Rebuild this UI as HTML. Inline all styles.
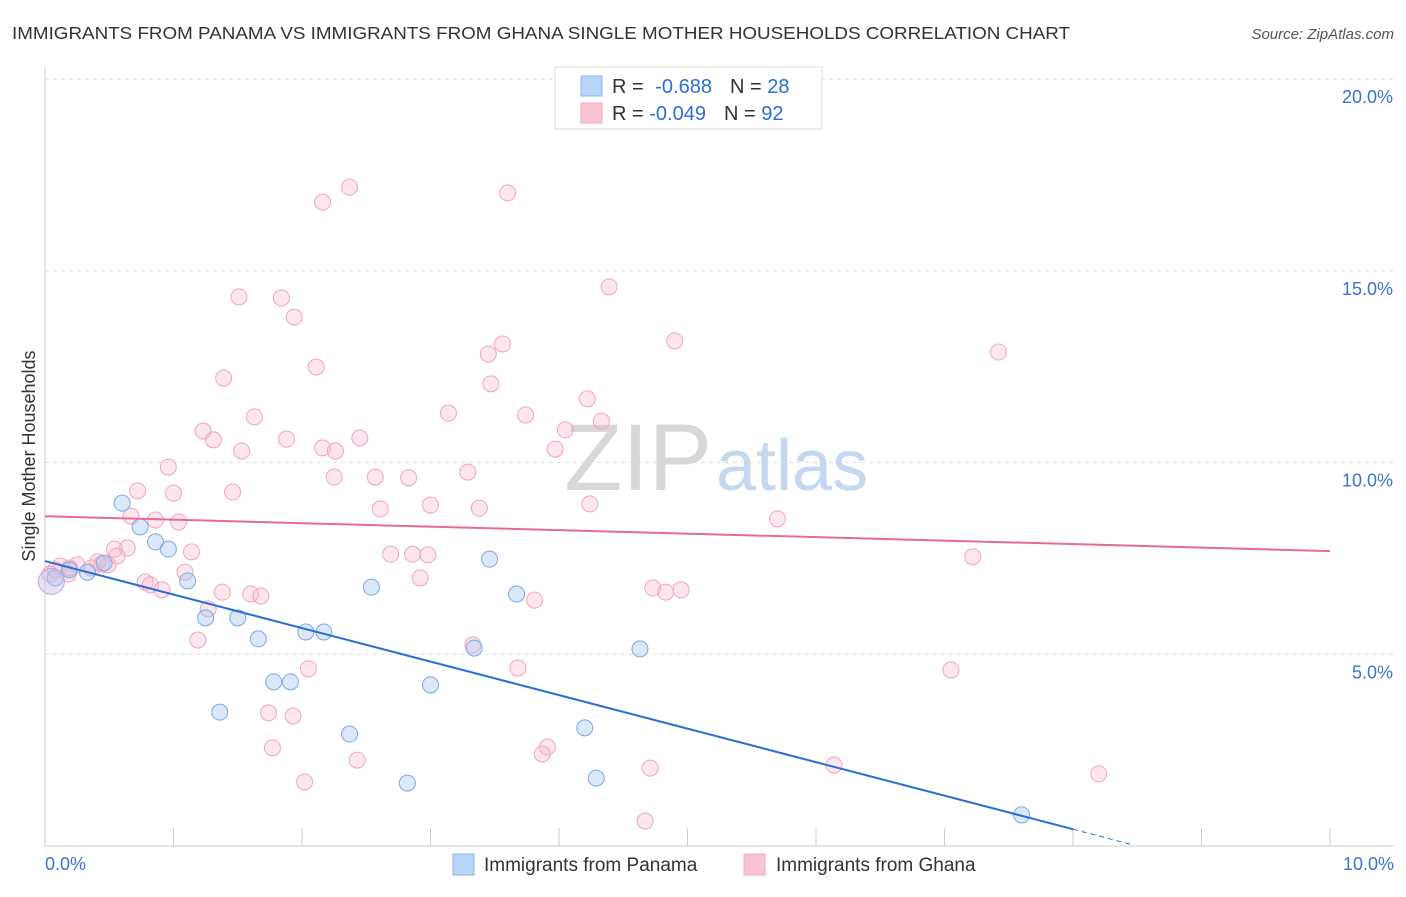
<!DOCTYPE html>
<html><head><meta charset="utf-8"><style>
body{margin:0;background:#fff;font-family:"Liberation Sans",sans-serif;}
svg text{font-family:"Liberation Sans",sans-serif;}
</style></head><body>
<svg id="chart" width="1406" height="892" xmlns="http://www.w3.org/2000/svg">
<text x="12" y="39" font-size="17.5" fill="#333" textLength="1058" lengthAdjust="spacingAndGlyphs">IMMIGRANTS FROM PANAMA VS IMMIGRANTS FROM GHANA SINGLE MOTHER HOUSEHOLDS CORRELATION CHART</text>
<text x="1394" y="39" font-size="15" fill="#555" font-style="italic" text-anchor="end">Source: ZipAtlas.com</text>
<text x="35" y="456" font-size="18" fill="#333" transform="rotate(-90 35 456)" text-anchor="middle">Single Mother Households</text>
<g id="grid"></g>
<g id="axes"></g>
<text x="712" y="490" font-size="95" fill="#d8d8d8" text-anchor="end" font-family="Liberation Serif">ZIP</text>
<text x="716" y="490" font-size="72" fill="#c6d8f0">atlas</text>
<g id="pts"></g>
<g id="lines"></g>
<g>
<rect x="555" y="67" width="267" height="62" fill="#fff" stroke="#ddd"/>
<rect x="581" y="76" width="21" height="20" fill="#b8d4f6" stroke="#8ab4ea"/>
<rect x="581" y="103" width="21" height="20" fill="#f8c4d4" stroke="#f0a8c0"/>
<text x="612" y="93" font-size="20" fill="#333">R = <tspan fill="#2a6fd6" dx="6">-0.688</tspan><tspan fill="#333" dx="18">N = </tspan><tspan fill="#2a6fd6">28</tspan></text>
<text x="612" y="120" font-size="20" fill="#333">R = <tspan fill="#2a6fd6">-0.049</tspan><tspan fill="#333" dx="18">N = </tspan><tspan fill="#2a6fd6">92</tspan></text>
</g>
<g>
<rect x="453" y="854" width="21" height="21" fill="#b8d4f6" stroke="#8ab4ea"/>
<text x="484" y="871" font-size="19" fill="#333">Immigrants from Panama</text>
<rect x="744" y="854" width="21" height="21" fill="#f8c4d4" stroke="#f0a8c0"/>
<text x="776" y="871" font-size="19" fill="#333">Immigrants from Ghana</text>
</g>
</svg>
<script>
const xTicks=[0,1,2,3,4,5,6,7,8,9,10];
const yTicks=[5,10,15,20];
const yTickLabels=["5.0%","10.0%","15.0%","20.0%"];
const xTickLabels=["0.0%","10.0%"];
const panamaX=[0.60,0.74,0.86,0.96,1.11,1.25,1.50,1.66,2.03,2.17,1.78,1.91,1.36,2.37,2.54,3.00,3.34,3.46,3.67,2.82,4.20,4.29,4.63,7.60,0.08,0.19,0.33,0.46];
const panamaY=[8.94,8.32,7.93,7.74,6.91,5.95,5.95,5.40,5.58,5.58,4.28,4.28,3.49,2.92,6.75,4.20,5.16,7.48,6.57,1.64,3.08,1.77,5.14,0.81,6.99,7.20,7.14,7.38];
const ghanaX=[2.16,2.37,3.60,1.51,1.84,1.94,4.39,4.90,7.42,3.45,3.56,2.11,1.39,3.47,3.14,1.63,3.74,4.22,4.33,1.23,1.31,1.88,2.45,4.05,1.53,2.16,2.26,3.97,0.96,3.29,2.25,2.57,2.83,1.46,0.72,1.00,2.61,3.00,3.38,4.24,5.70,0.67,0.86,1.04,2.69,2.86,2.98,7.22,1.14,0.64,0.54,0.56,0.44,0.49,0.25,0.36,0.12,0.08,0.18,0.78,0.82,0.91,1.09,1.38,1.60,1.68,2.92,4.73,4.83,4.95,3.81,1.27,1.19,3.33,2.05,3.68,7.05,1.74,1.93,1.77,2.43,3.91,3.87,4.71,6.14,8.20,2.02,4.67,0.04,0.19,0.41];
const ghanaY=[16.79,17.18,17.03,14.32,14.29,13.79,14.58,13.17,12.88,12.83,13.09,12.49,12.20,12.05,11.29,11.19,11.24,11.66,11.08,10.82,10.59,10.61,10.64,10.85,10.30,10.38,10.30,10.35,9.88,9.75,9.62,9.62,9.60,9.23,9.26,9.20,8.79,8.89,8.81,8.92,8.53,8.60,8.50,8.45,7.61,7.61,7.59,7.54,7.67,7.77,7.74,7.56,7.35,7.33,7.33,7.25,7.30,7.20,7.09,6.88,6.81,6.68,7.14,6.62,6.57,6.52,6.99,6.73,6.62,6.68,6.41,6.18,5.37,5.24,4.62,4.64,4.59,3.47,3.39,2.56,2.24,2.58,2.40,2.03,2.11,1.88,1.67,0.65,7.09,7.25,7.41];
const panamaTrend=[7.43,-0.874];
const ghanaTrend=[8.60,-0.091];
const X0=45,X1=1330,Y0=846,PY=38.35;
const sx=v=>X0+(X1-X0)*v/10;
const sy=v=>Y0-v*PY;
const NS="http://www.w3.org/2000/svg";
function mk(tag,attrs,parent){const e=document.createElementNS(NS,tag);for(const k in attrs)e.setAttribute(k,attrs[k]);parent.appendChild(e);return e;}
const grid=document.getElementById('grid'),axes=document.getElementById('axes'),pts=document.getElementById('pts'),lines=document.getElementById('lines');
yTicks.forEach((t,i)=>{
 const l=mk('line',{x1:X0,x2:1394,y1:sy(t),y2:sy(t),stroke:'#ddd','stroke-dasharray':'4 4'},grid);
 
 
 const tx=mk('text',{x:1393,y:sy(t)+24,'font-size':18,fill:'#3b73d1','text-anchor':'end'},grid);
 tx.textContent=yTickLabels[i];
 
 
});
const ya=mk('line',{x1:X0,x2:X0,y1:67,y2:Y0,stroke:'#ccc'},axes);


const xa=mk('line',{x1:X0,x2:1394,y1:Y0,y2:Y0,stroke:'#ccc'},axes);


xTicks.forEach(t=>{
 const l=mk('line',{x1:sx(t),x2:sx(t),y1:828,y2:Y0,stroke:'#ccc'},axes);
 
 
});
[[0,'start',45],[10,'end',1394]].forEach((d,i)=>{
 const tx=mk('text',{x:d[2],y:870,'font-size':18,fill:'#3b73d1','text-anchor':d[1]},axes);
 tx.textContent=xTickLabels[i];
 
 
});
ghanaX.forEach((x,i)=>{
 const c=mk('circle',{cx:sx(x),cy:sy(ghanaY[i]),r:8,fill:'rgba(248,182,204,0.35)',stroke:'#f0a6be','stroke-width':1},pts);
 
 
});
panamaX.forEach((x,i)=>{
 const c=mk('circle',{cx:sx(x),cy:sy(panamaY[i]),r:8,fill:'rgba(164,198,242,0.4)',stroke:'#7ca8e4','stroke-width':1},pts);
 
 
});
const big=mk('circle',{cx:sx(0.05),cy:sy(6.9),r:13,fill:'rgba(200,190,230,0.45)',stroke:'#c0a8d8'},pts);


const pe=8;
const pl=mk('line',{x1:sx(0),y1:sy(panamaTrend[0]),x2:sx(pe),y2:sy(panamaTrend[0]+panamaTrend[1]*pe),stroke:'#2a6fd6','stroke-width':2},lines);


const pd=mk('line',{x1:sx(pe),y1:sy(panamaTrend[0]+panamaTrend[1]*pe),x2:sx(8.45),y2:sy(panamaTrend[0]+panamaTrend[1]*8.45),stroke:'#2a6fd6','stroke-width':1,'stroke-dasharray':'5 4'},lines);


const gl=mk('line',{x1:sx(0),y1:sy(ghanaTrend[0]),x2:sx(10),y2:sy(ghanaTrend[0]+ghanaTrend[1]*10),stroke:'#e66a96','stroke-width':2},lines);


</script>
</body></html>
